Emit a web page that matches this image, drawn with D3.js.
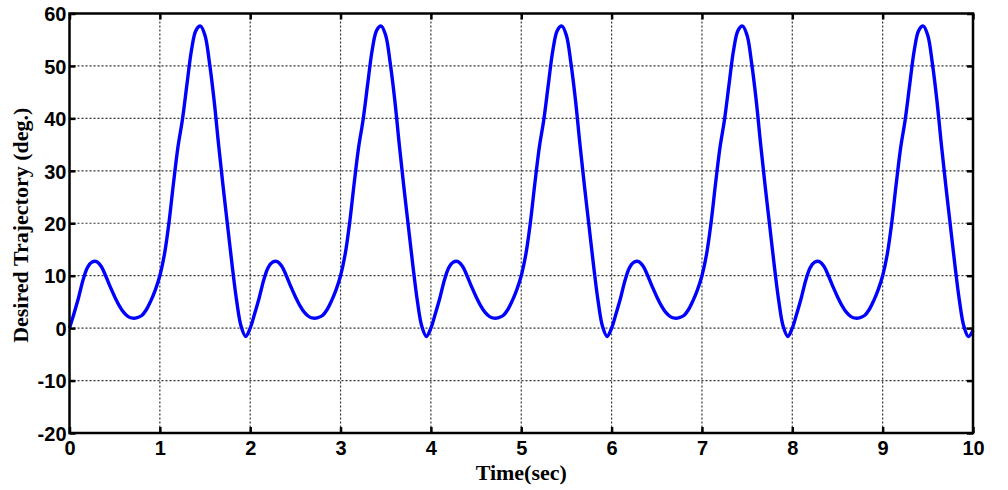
<!DOCTYPE html>
<html>
<head>
<meta charset="utf-8">
<script src="https://cdn.jsdelivr.net/npm/d3@7"></script>
<style>
  html, body { margin: 0; padding: 0; background: #fff; }
  svg { display: block; }
</style>
</head>
<body>
<svg id="chart" width="1008" height="490"></svg>
<script>
// ---- data ----
const timeSec = [
  0.00,0.05,0.10,0.15,0.20,0.25,0.30,0.35,0.40,0.45,0.50,0.55,0.60,0.65,0.70,0.75,0.80,0.85,0.90,0.95,
  1.00,1.05,1.10,1.15,1.20,1.25,1.30,1.35,1.40,1.45,1.50,1.55,1.60,1.65,1.70,1.75,1.80,1.85,1.90,1.95,
  2.00,2.05,2.10,2.15,2.20,2.25,2.30,2.35,2.40,2.45,2.50,2.55,2.60,2.65,2.70,2.75,2.80,2.85,2.90,2.95,
  3.00,3.05,3.10,3.15,3.20,3.25,3.30,3.35,3.40,3.45,3.50,3.55,3.60,3.65,3.70,3.75,3.80,3.85,3.90,3.95,
  4.00,4.05,4.10,4.15,4.20,4.25,4.30,4.35,4.40,4.45,4.50,4.55,4.60,4.65,4.70,4.75,4.80,4.85,4.90,4.95,
  5.00,5.05,5.10,5.15,5.20,5.25,5.30,5.35,5.40,5.45,5.50,5.55,5.60,5.65,5.70,5.75,5.80,5.85,5.90,5.95,
  6.00,6.05,6.10,6.15,6.20,6.25,6.30,6.35,6.40,6.45,6.50,6.55,6.60,6.65,6.70,6.75,6.80,6.85,6.90,6.95,
  7.00,7.05,7.10,7.15,7.20,7.25,7.30,7.35,7.40,7.45,7.50,7.55,7.60,7.65,7.70,7.75,7.80,7.85,7.90,7.95,
  8.00,8.05,8.10,8.15,8.20,8.25,8.30,8.35,8.40,8.45,8.50,8.55,8.60,8.65,8.70,8.75,8.80,8.85,8.90,8.95,
  9.00,9.05,9.10,9.15,9.20,9.25,9.30,9.35,9.40,9.45,9.50,9.55,9.60,9.65,9.70,9.75,9.80,9.85,9.90,9.95,
  10.00
];
const trajectoryDeg = [
  0.0,2.8,5.8,9.2,11.6,12.6,12.7,11.8,10.0,7.9,6.0,4.3,3.0,2.2,1.9,2.0,2.4,3.5,5.2,7.3,
  10.0,14.0,20.0,27.5,34.5,39.8,46.5,53.0,56.8,57.6,55.8,50.5,43.5,35.0,27.0,19.5,12.0,5.2,0.3,-1.6,
  0.0,2.8,5.8,9.2,11.6,12.6,12.7,11.8,10.0,7.9,6.0,4.3,3.0,2.2,1.9,2.0,2.4,3.5,5.2,7.3,
  10.0,14.0,20.0,27.5,34.5,39.8,46.5,53.0,56.8,57.6,55.8,50.5,43.5,35.0,27.0,19.5,12.0,5.2,0.3,-1.6,
  0.0,2.8,5.8,9.2,11.6,12.6,12.7,11.8,10.0,7.9,6.0,4.3,3.0,2.2,1.9,2.0,2.4,3.5,5.2,7.3,
  10.0,14.0,20.0,27.5,34.5,39.8,46.5,53.0,56.8,57.6,55.8,50.5,43.5,35.0,27.0,19.5,12.0,5.2,0.3,-1.6,
  0.0,2.8,5.8,9.2,11.6,12.6,12.7,11.8,10.0,7.9,6.0,4.3,3.0,2.2,1.9,2.0,2.4,3.5,5.2,7.3,
  10.0,14.0,20.0,27.5,34.5,39.8,46.5,53.0,56.8,57.6,55.8,50.5,43.5,35.0,27.0,19.5,12.0,5.2,0.3,-1.6,
  0.0,2.8,5.8,9.2,11.6,12.6,12.7,11.8,10.0,7.9,6.0,4.3,3.0,2.2,1.9,2.0,2.4,3.5,5.2,7.3,
  10.0,14.0,20.0,27.5,34.5,39.8,46.5,53.0,56.8,57.6,55.8,50.5,43.5,35.0,27.0,19.5,12.0,5.2,0.3,-1.6,
  -0.4
];
const xTicks = [0,1,2,3,4,5,6,7,8,9,10];
const yTicks = [-20,-10,0,10,20,30,40,50,60];
const xLabel = "Time(sec)";
const yLabel = "Desired Trajectory (deg.)";

// ---- layout ----
const L = 69.5, R = 973, T = 13.5, B = 433;
const svg = d3.select("#chart");
const x = d3.scaleLinear().domain([0, 10]).range([L, R]);
const y = d3.scaleLinear().domain([-20, 60]).range([B, T]);
const fmt = d => String(d); // plain hyphen minus like the reference

// grid
const grid = svg.append("g").attr("stroke", "#333").attr("stroke-width", 1.2)
  .attr("stroke-dasharray", "2,2");
grid.selectAll("line.v").data(xTicks.slice(1, -1)).enter().append("line")
  .attr("x1", d => x(d)).attr("x2", d => x(d)).attr("y1", T).attr("y2", B);
grid.selectAll("line.h").data(yTicks.slice(1, -1)).enter().append("line")
  .attr("y1", d => y(d)).attr("y2", d => y(d)).attr("x1", L).attr("x2", R);

// curve
const pts = timeSec.map((t, i) => [t, trajectoryDeg[i]]);
svg.append("path").datum(pts)
  .attr("fill", "none").attr("stroke", "#0000ff").attr("stroke-width", 3.4)
  .attr("stroke-linejoin", "round")
  .attr("d", d3.line().x(d => x(d[0])).y(d => y(d[1])).curve(d3.curveCatmullRom));

// axes (ticks inward, box)
const tickLen = 6;
const axB = svg.append("g").attr("transform", `translate(0,${B})`)
  .call(d3.axisBottom(x).tickValues(xTicks).tickSize(-tickLen).tickPadding(8).tickFormat(fmt));
const axT = svg.append("g").attr("transform", `translate(0,${T})`)
  .call(d3.axisTop(x).tickValues(xTicks).tickSize(-tickLen).tickFormat(""));
const axL = svg.append("g").attr("transform", `translate(${L},0)`)
  .call(d3.axisLeft(y).tickValues(yTicks).tickSize(-tickLen).tickPadding(3).tickFormat(fmt));
const axR = svg.append("g").attr("transform", `translate(${R},0)`)
  .call(d3.axisRight(y).tickValues(yTicks).tickSize(-tickLen).tickFormat(""));
[axB, axT, axL, axR].forEach(a => {
  a.select(".domain").remove();
  a.selectAll(".tick line").attr("stroke", "#000").attr("stroke-width", 2.5);
  a.selectAll(".tick text").attr("fill", "#000")
    .style("font-family", "'Liberation Sans', Arial, sans-serif")
    .style("font-weight", "bold").style("font-size", "20px");
});
axB.selectAll(".tick text").attr("dy", "0.71em");
axL.selectAll(".tick text").attr("dy", "0.36em");

// frame
svg.append("rect").attr("x", L).attr("y", T).attr("width", R - L).attr("height", B - T)
  .attr("fill", "none").attr("stroke", "#000").attr("stroke-width", 2.5);

// labels
svg.append("text").text(xLabel)
  .attr("x", (L + R) / 2).attr("y", 480).attr("text-anchor", "middle")
  .style("font-family", "'Liberation Serif', 'Times New Roman', serif")
  .style("font-weight", "bold").style("font-size", "22px").attr("fill", "#000");
svg.append("text").text(yLabel)
  .attr("transform", `translate(28,${(T + B) / 2 + 2}) rotate(-90)`).attr("text-anchor", "middle")
  .style("font-family", "'Liberation Serif', 'Times New Roman', serif")
  .style("font-weight", "bold").style("font-size", "22px").attr("fill", "#000");
</script>
</body>
</html>
